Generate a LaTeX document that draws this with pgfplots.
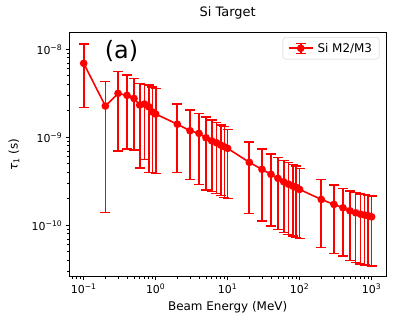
\documentclass[border=0pt]{standalone}
\usepackage{fontspec}
\setmainfont{DejaVu Sans}
\usepackage{pgfplots}
\pgfplotsset{compat=1.18}
\usepackage{pgfplotstable}

% beam energy (MeV), tau_1 (s), error plus, error minus
\pgfplotstableread{
x    y         ep        em
0.1  69.3e-10  45.5e-10  47.6e-10
0.2  22.7e-10  20.1e-10  21.3e-10
0.3  31.6e-10  24.0e-10  24.6e-10
0.4  30.0e-10  21.0e-10  22.6e-10
0.5  27.7e-10  19.1e-10  20.5e-10
0.6  23.3e-10  17.8e-10  18.8e-10
0.7  23.9e-10  16.1e-10  18.3e-10
0.8  22.3e-10  17.0e-10  18.3e-10
0.9  19.4e-10  17.9e-10  15.4e-10
1    18.4e-10  17.5e-10  14.5e-10
2    14.1e-10  9.8e-10   10.1e-10
3    11.9e-10  8.5e-10   8.6e-10
4    11.1e-10  7.6e-10   8.2e-10
5    9.89e-10  7.2e-10   7.37e-10
6    9.14e-10  6.56e-10  6.73e-10
7    8.68e-10  6.0e-10   6.37e-10
8    8.17e-10  5.6e-10   6.0e-10
9    7.82e-10  5.4e-10   5.74e-10
10   7.5e-10   4.8e-10   5.47e-10
20   5.2e-10   3.7e-10   3.83e-10
30   4.33e-10  3.03e-10  3.21e-10
40   3.8e-10   2.66e-10  2.82e-10
50   3.42e-10  2.51e-10  2.52e-10
60   3.13e-10  2.29e-10  2.30e-10
70   2.94e-10  2.26e-10  2.15e-10
80   2.8e-10   2.13e-10  2.04e-10
90   2.7e-10   2.02e-10  1.97e-10
100  2.56e-10  1.89e-10  1.855e-10
200  1.97e-10  1.36e-10  1.41e-10
300  1.73e-10  1.14e-10  1.25e-10
400  1.585e-10 1.045e-10 1.137e-10
500  1.466e-10 0.984e-10 1.07e-10
600  1.39e-10  0.96e-10  1.01e-10
700  1.34e-10  0.93e-10  0.977e-10
800  1.31e-10  0.92e-10  0.956e-10
900  1.285e-10 0.905e-10 0.937e-10
1000 1.25e-10  0.90e-10  0.906e-10
}\tauone

\begin{document}
\begin{tikzpicture}
\path[use as bounding box] (-69.3bp,-49.3bp) rectangle (337.7bp,276.7bp);
\begin{axis}[
  scale only axis, width=316.7bp, height=244bp,
  xmode=log, ymode=log,
  xmin=0.0631, xmax=1585, ymin=2.61e-11, ymax=1.545e-8,
  axis line style={black, line width=0.8bp},
  tick align=outside, xtick pos=bottom, ytick pos=left,
  major tick length=3.5bp, minor tick length=2bp,
  every tick/.style={black, line width=0.8bp},
  xtick={0.1,1,10,100,1000},
  xticklabels={10\textsuperscript{−1},10\textsuperscript{0},10\textsuperscript{1},10\textsuperscript{2},10\textsuperscript{3}},
  minor xtick={0.07,0.08,0.09,0.2,0.3,0.4,0.5,0.6,0.7,0.8,0.9,2,3,4,5,6,7,8,9,20,30,40,50,60,70,80,90,200,300,400,500,600,700,800,900},
  ytick={1e-10,1e-9,1e-8},
  yticklabels={10\textsuperscript{−10},10\textsuperscript{−9},10\textsuperscript{−8}},
  minor ytick={3e-11,4e-11,5e-11,6e-11,7e-11,8e-11,9e-11,2e-10,3e-10,4e-10,5e-10,6e-10,7e-10,8e-10,9e-10,2e-9,3e-9,4e-9,5e-9,6e-9,7e-9,8e-9,9e-9},
  ticklabel style={font=\fontsize{11}{13}\selectfont},
  xlabel={Beam Energy (MeV)},
  ylabel={{\itshape τ}\textsubscript{1} (s)},
  every axis x label/.style={at={(axis description cs:0.5,0)}, anchor=center, yshift=-30.3bp, font=\fontsize{12}{14}\selectfont},
  every axis y label/.style={at={(axis description cs:-0.175,0.5)}, rotate=90, anchor=center, font=\fontsize{12}{14}\selectfont},
  title={Si Target},
  title style={font=\fontsize{13}{15}\selectfont, at={(axis description cs:0.5,1)}, anchor=south, inner sep=0pt, yshift=7bp},
  legend style={at={(axis description cs:1,1)}, anchor=north east, xshift=-6.7bp, yshift=-4.6bp,
    draw=black!20, rounded corners=2.5bp, font=\fontsize{12}{14}\selectfont,
    inner xsep=5bp, inner ysep=3.5bp, column sep=2bp},
  legend image code/.code={
    \draw[red, line width=1.6bp] (0bp,0bp) -- (24bp,0bp);
    \draw[red, line width=1.6bp] (12bp,-5bp) -- (12bp,5bp);
    \draw[red, line width=1.4bp] (7bp,5bp) -- (17bp,5bp) (7bp,-5bp) -- (17bp,-5bp);
    \fill[red] (12bp,0bp) circle (3bp);
  },
]
\addplot[red, line width=1.6bp, mark=*, mark size=3bp, mark options={red, solid},
  error bars/.cd, y dir=both, y explicit,
  error bar style={red, line width=1.7bp},
  error mark options={red, rotate=90, line width=1.4bp, mark size=5bp}]
  table[x=x, y=y, y error plus=ep, y error minus=em] {\tauone};
\addlegendentry{Si M2/M3}
\node[font=\fontsize{24}{28}\selectfont, anchor=center] at (axis description cs:0.165,0.925) {(a)};
\end{axis}
\end{tikzpicture}
\end{document}
